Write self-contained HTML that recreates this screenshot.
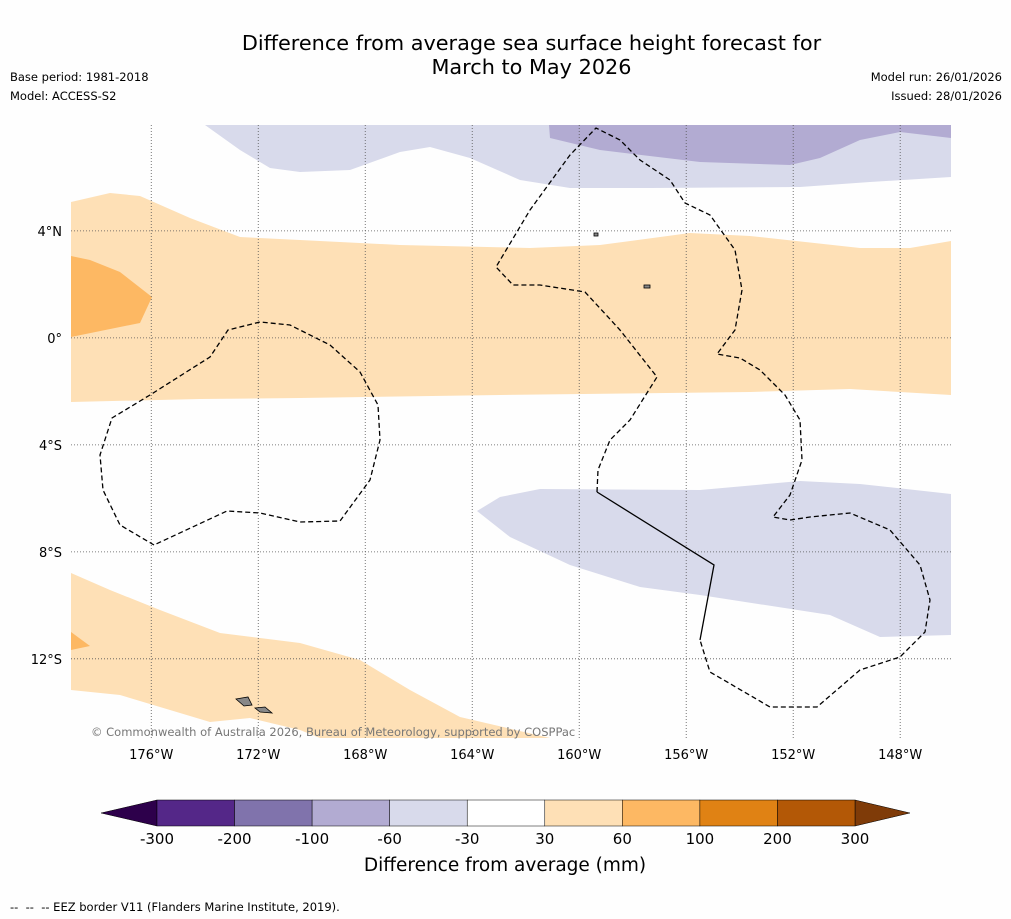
<!DOCTYPE html>
<html><head><meta charset="utf-8">
<style>
body{margin:0;background:#fff;font-family:"DejaVu Sans","Liberation Sans",sans-serif;}
#wrap{position:relative;width:1011px;height:919px;overflow:hidden;background:#fefefe}
.t{position:absolute;color:#000}
svg text{font-family:"DejaVu Sans","Liberation Sans",sans-serif;}
</style></head><body>
<div id="wrap">
<div class="t" style="left:0;width:1063px;top:31px;text-align:center;font-size:20.8px;line-height:24px;">Difference from average sea surface height forecast for<br>March to May 2026</div>
<div class="t" style="left:10px;top:68px;font-size:11.5px;line-height:19px">Base period: 1981-2018<br>Model: ACCESS-S2</div>
<div class="t" style="right:9px;top:68px;font-size:11.5px;line-height:19px;text-align:right">Model run: 26/01/2026<br>Issued: 28/01/2026</div>
<svg id="map" width="1011" height="919" style="position:absolute;left:0;top:0">
<defs><clipPath id="c"><rect x="71" y="125" width="880" height="613"/></clipPath></defs>
<g clip-path="url(#c)">
<path fill="#d8daeb" d="M205,125 L240,150 L270,168 L300,172 L350,170 L400,152 L430,147 L470,158 L520,180 L570,188 L650,188 L800,187 L870,182 L951,177 L951,125 Z"/>
<path fill="#b2abd2" d="M549,125 L550,138 L600,150 L700,162 L790,165 L820,158 L860,140 L900,132 L951,138 L951,125 Z"/>
<path fill="#fee0b6" d="M71,202 L110,193 L140,196 L190,218 L240,237 L300,240 L400,245 L530,248 L600,245 L690,233 L750,236 L860,248 L910,248 L951,241 L951,395 L850,389 L750,392 L500,395 L300,398 L200,399 L71,402 Z"/>
<path fill="#fdb863" d="M71,256 L90,260 L120,272 L152,297 L140,323 L71,337 Z"/>
<path fill="#d8daeb" d="M477,511 L500,497 L540,489 L700,490 L800,481 L860,484 L951,494 L951,635 L880,637 L830,615 L700,595 L640,587 L570,565 L510,537 Z"/>
<path fill="#fee0b6" d="M71,573 L110,590 L160,610 L220,633 L300,643 L360,660 L410,690 L460,717 L550,738 L320,738 L300,730 L250,718 L210,722 L170,710 L120,695 L71,690 Z"/>
<path fill="#fdb863" d="M71,632 L90,646 L71,650 Z"/>
</g>
<g id="grid" stroke="#555" stroke-width="0.8" stroke-dasharray="1,2"></g>
<g fill="none" stroke="#000" stroke-width="1.3">
<path stroke-dasharray="5,3" d="M154,545 L120,525 L103,490 L100,455 L112,418 L150,395 L210,357 L228,330 L260,322 L290,325 L330,345 L360,372 L378,405 L380,440 L370,480 L340,521 L300,522 L260,513 L227,511 Z"/>
<path stroke-dasharray="5,3" d="M597,492 L598,470 L610,440 L630,420 L657,377 L620,330 L585,292 L540,285 L513,285 L496,267 L530,210 L570,155 L596,128 L620,140 L640,160 L670,180 L685,203 L710,215 L735,250 L742,290 L735,330 L717,354 L740,358 L760,370 L785,395 L800,420 L802,460 L790,495 L773,517 L790,520 L810,517 L850,513 L890,530 L920,565 L930,600 L925,632 L900,657 L860,670 L817,707 L770,707 L710,672 L700,640"/>
<path d="M597,492 L714,565 L700,640"/>
</g>
<g fill="#888" stroke="#000" stroke-width="0.8">
<path d="M236,699 L248,697 L252,705 L244,706 Z"/><path d="M255,708 L265,707 L272,713 L260,712 Z"/>
<rect x="644" y="285" width="6" height="3"/><rect x="594" y="233" width="4" height="3"/>
</g>
<g id="axislabels" font-size="13" fill="#000"></g>
<text x="91" y="736" font-size="11.5" fill="#777">© Commonwealth of Australia 2026, Bureau of Meteorology, supported by COSPPac</text>
<g id="cbar"></g>
<text x="505" y="871" font-size="18.5" text-anchor="middle">Difference from average (mm)</text>
<text x="10" y="911" font-size="11.5" style="white-space:pre">--  --  -- EEZ border V11 (Flanders Marine Institute, 2019).</text>
</svg>
</div>
<script>
const lonTicks=[-176,-172,-168,-164,-160,-156,-152,-148];
const latTicks=[4,0,-4,-8,-12];
const cbarTicks=[-300,-200,-100,-60,-30,30,60,100,200,300];
const cbarColors=["#542788","#8073ac","#b2abd2","#d8daeb","#ffffff","#fee0b6","#fdb863","#e08214","#b35806"];
const NS="http://www.w3.org/2000/svg";
const x0=71,x1=951,y0=125,y1=738,lonMin=-179,lonMax=-146.1,latMax=7.96,latMin=-14.96;
const xs=l=>x0+(l-lonMin)/(lonMax-lonMin)*(x1-x0);
const ys=l=>y0+(latMax-l)/(latMax-latMin)*(y1-y0);
const grid=document.getElementById('grid'),al=document.getElementById('axislabels');
function mk(tag,a,p){const e=document.createElementNS(NS,tag);for(const k in a)e.setAttribute(k,a[k]);p.appendChild(e);return e;}
lonTicks.forEach(l=>{const x=xs(l);
 const g=mk('line',{x1:x,x2:x,y1:y0,y2:y1},grid);
 
 
 const t=mk('text',{x:x,y:759,'text-anchor':'middle'},al);t.textContent=Math.abs(l)+'°W';
 
 });
latTicks.forEach(l=>{const y=ys(l);
 const g=mk('line',{x1:x0,x2:x1,y1:y,y2:y},grid);
 
 
 const t=mk('text',{x:62,y:y+5,'text-anchor':'end'},al);t.textContent=l===0?'0°':Math.abs(l)+'°'+(l>0?'N':'S');
 
 });
const cb=document.getElementById('cbar');const cx0=157,cx1=855,cy=800,ch=26,seg=(cx1-cx0)/cbarColors.length;
const la=mk('path',{d:`M${cx0},${cy} L101,${cy+ch/2} L${cx0},${cy+ch} Z`,fill:'#2d004b',stroke:'#000','stroke-width':0.5},cb);


const ra=mk('path',{d:`M${cx1},${cy} L910,${cy+ch/2} L${cx1},${cy+ch} Z`,fill:'#7f3b08',stroke:'#000','stroke-width':0.5},cb);


cbarColors.forEach((c,i)=>{const r=mk('rect',{x:cx0+i*seg,y:cy,width:seg,height:ch,fill:c,stroke:'#000','stroke-width':0.5},cb);
 
 });
cbarTicks.forEach((v,i)=>{const t=mk('text',{x:cx0+i*seg,y:844,'text-anchor':'middle','font-size':15},cb);t.textContent=v;
 
 });
</script>
</body></html>
